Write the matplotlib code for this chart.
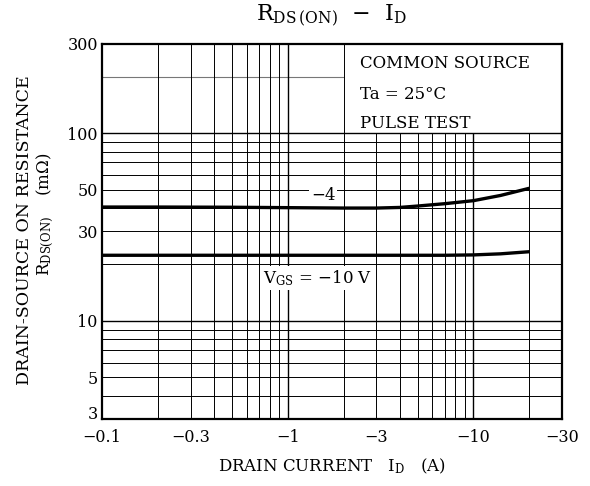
import matplotlib
matplotlib.use("Agg")
import matplotlib.pyplot as plt
from matplotlib.ticker import FixedLocator, NullLocator
from matplotlib.transforms import ScaledTranslation

plt.rcParams['font.family'] = ['DejaVu Serif']
plt.rcParams['mathtext.fontset'] = 'dejavuserif'

# Data
id_a = [0.1, 0.2, 0.5, 1, 2, 3, 4, 5, 7, 10, 14, 20]
r_vgs_m4 = [40.5, 40.5, 40.4, 40.2, 40.0, 40.0, 40.3, 41.0, 42.2, 43.8, 46.7, 51.0]
r_vgs_m10 = [22.4, 22.4, 22.4, 22.4, 22.4, 22.4, 22.4, 22.4, 22.4, 22.5, 22.8, 23.4]

x_ticks = [0.1, 0.3, 1, 3, 10, 30]
x_labels = ['−0.1', '−0.3', '−1', '−3', '−10', '−30']
y_ticks = [3, 5, 10, 30, 50, 100, 300]
y_labels = ['3', '5', '10', '30', '50', '100', '300']

fig = plt.figure(figsize=(5.9, 4.86), dpi=100)
ax = fig.add_axes([0.1729, 0.1379, 0.7797, 0.7716])
ax.set_xscale('log')
ax.set_yscale('log')
ax.set_xlim(0.1, 30)
ax.set_ylim(3, 300)

# datasheet grid
for y in [4, 5, 6, 7, 8, 9, 10, 20, 30, 40, 50, 60, 70, 80, 90, 100]:
    ax.hlines(y, 0.1, 30, lw=1.0 if y in (10, 100) else 0.7, color='black', zorder=1)
ax.hlines(200, 0.1, 2, color='#777777', lw=0.8, zorder=1)
for x in [0.2, 0.3, 0.4, 0.5, 0.6, 0.7, 0.8, 0.9, 1, 2]:
    ax.vlines(x, 3, 300, lw=1.0 if x == 1 else 0.7, color='black', zorder=1)
for x in [3, 4, 5, 6, 7, 8, 9, 10, 20]:
    ax.vlines(x, 3, 100, lw=1.0 if x == 10 else 0.7, color='black', zorder=1)

ax.plot(id_a, r_vgs_m4, color='black', lw=2.4, zorder=3, solid_capstyle='butt')
ax.plot(id_a, r_vgs_m10, color='black', lw=2.4, zorder=3, solid_capstyle='butt')

ax.text(1.55, 46.5, '−4', fontsize=12, ha='center', va='center',
        bbox=dict(facecolor='white', edgecolor='none', pad=1.5), zorder=4)
ax.text(1.45, 17.0, r'V$_{\mathrm{GS}}$ = −10 V', fontsize=12, ha='center', va='center',
        bbox=dict(facecolor='white', edgecolor='none', pad=1.5), zorder=4)

ax.text(2.45, 235, 'COMMON SOURCE', fontsize=12, ha='left', va='center')
ax.text(2.45, 162, 'Ta = 25°C', fontsize=12, ha='left', va='center')
ax.text(2.45, 113, 'PULSE TEST', fontsize=12, ha='left', va='center')

ax.xaxis.set_major_locator(FixedLocator(x_ticks))
ax.xaxis.set_minor_locator(NullLocator())
ax.set_xticklabels(x_labels)
ax.yaxis.set_major_locator(FixedLocator(y_ticks))
ax.yaxis.set_minor_locator(NullLocator())
ax.set_yticklabels(y_labels)
ax.tick_params(axis='both', which='both', length=0, labelsize=11.5)
ax.tick_params(axis='x', pad=7)
ax.tick_params(axis='y', pad=3)
ylab = ax.get_yticklabels()
ylab[0].set_transform(ylab[0].get_transform() + ScaledTranslation(0, 5 / 72, fig.dpi_scale_trans))

for s in ax.spines.values():
    s.set_linewidth(1.6)
    s.set_zorder(5)

fig.text(0.562, 0.968, r'R$_{\mathrm{DS\,(ON)}}$  −  I$_{\mathrm{D}}$', fontsize=16,
         ha='center', va='center')
fig.text(0.5627, 0.04, r'DRAIN CURRENT   I$_{\mathrm{D}}$   (A)', fontsize=12,
         ha='center', va='center')
fig.text(0.042, 0.527, 'DRAIN-SOURCE ON RESISTANCE', fontsize=12.5, rotation=90,
         ha='center', va='center')
fig.text(0.076, 0.56, r'R$_{\mathrm{DS(ON)}}$    (m$\Omega$)', fontsize=12, rotation=90,
         ha='center', va='center')

fig.savefig('out.png', dpi=100)
